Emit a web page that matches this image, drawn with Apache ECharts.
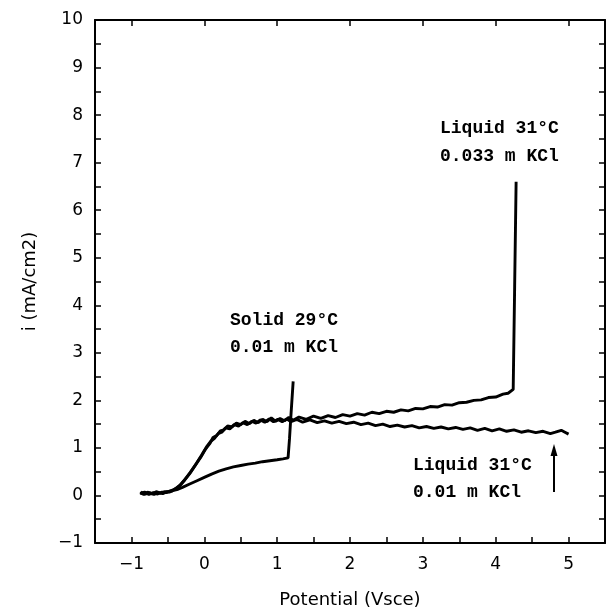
<!DOCTYPE html>
<html>
<head>
<meta charset="utf-8">
<script src="https://cdn.jsdelivr.net/npm/echarts@6/dist/echarts.min.js"></script>
<style>html,body{margin:0;padding:0;background:#fff}#c{width:608px;height:613px}</style>
</head>
<body>
<div id="c"></div>
<script>
// Tick labels
const xTickLabels = [-1, 0, 1, 2, 3, 4, 5];
const yTickLabels = [-1, 0, 1, 2, 3, 4, 5, 6, 7, 8, 9, 10];

// Solid 29°C, 0.01 m KCl  [potential V, current mA/cm2]
const solid29 = [
  [-0.88,0.06],[-0.83,0.02],[-0.78,0.07],[-0.72,0.03],[-0.66,0.08],[-0.6,0.05],[-0.54,0.08],[-0.48,0.07],
  [-0.42,0.11],[-0.36,0.13],[-0.3,0.17],[-0.2,0.24],[-0.1,0.31],[0,0.38],[0.1,0.45],[0.2,0.51],
  [0.3,0.56],[0.4,0.6],[0.5,0.63],[0.6,0.66],[0.7,0.68],[0.8,0.71],[0.9,0.73],[1.0,0.75],
  [1.08,0.77],[1.15,0.79],[1.17,1.2],[1.19,1.7],[1.22,2.4]
];

// Liquid 31°C, 0.033 m KCl
const liquid033 = [
  [-0.88,0.04],[-0.82,0.07],[-0.76,0.02],[-0.7,0.06],[-0.64,0.03],[-0.58,0.07],[-0.52,0.06],[-0.46,0.1],
  [-0.4,0.13],[-0.34,0.2],[-0.27,0.32],[-0.2,0.46],[-0.12,0.64],[-0.05,0.8],[0.02,0.98],[0.08,1.1],
  [0.12,1.22],[0.17,1.26],[0.22,1.36],[0.27,1.38],[0.32,1.46],[0.38,1.44],[0.44,1.52],[0.5,1.49],
  [0.56,1.56],[0.62,1.51],[0.68,1.58],[0.74,1.53],[0.8,1.6],[0.86,1.55],[0.92,1.63],[0.98,1.56],
  [1.04,1.62],[1.1,1.57],[1.16,1.64],[1.22,1.58],[1.3,1.65],[1.4,1.6],[1.5,1.67],[1.6,1.62],
  [1.7,1.68],[1.8,1.64],[1.9,1.7],[2.0,1.67],[2.1,1.72],[2.2,1.69],[2.3,1.75],[2.4,1.72],
  [2.5,1.77],[2.6,1.75],[2.7,1.8],[2.8,1.78],[2.9,1.83],[3.0,1.82],[3.1,1.87],[3.2,1.86],
  [3.3,1.91],[3.4,1.9],[3.5,1.95],[3.6,1.96],[3.7,2.0],[3.8,2.01],[3.9,2.06],[4.0,2.07],
  [4.1,2.13],[4.17,2.15],[4.24,2.23],[4.26,4.4],[4.28,6.6]
];

// Liquid 31°C, 0.01 m KCl
const liquid001 = [
  [-0.87,0.07],[-0.81,0.03],[-0.75,0.06],[-0.69,0.02],[-0.63,0.06],[-0.57,0.04],[-0.51,0.08],[-0.45,0.09],
  [-0.39,0.15],[-0.33,0.22],[-0.26,0.35],[-0.19,0.49],[-0.11,0.67],[-0.04,0.84],[0.03,1.02],[0.09,1.14],
  [0.14,1.2],[0.19,1.3],[0.24,1.33],[0.29,1.42],[0.35,1.4],[0.41,1.49],[0.47,1.46],[0.53,1.53],
  [0.59,1.49],[0.65,1.56],[0.71,1.52],[0.77,1.59],[0.83,1.54],[0.89,1.61],[0.95,1.55],[1.01,1.6],
  [1.07,1.55],[1.13,1.61],[1.19,1.55],[1.27,1.6],[1.35,1.54],[1.45,1.59],[1.55,1.53],[1.65,1.57],
  [1.75,1.52],[1.85,1.56],[1.95,1.51],[2.05,1.54],[2.15,1.49],[2.25,1.52],[2.35,1.47],[2.45,1.5],
  [2.55,1.45],[2.65,1.48],[2.75,1.44],[2.85,1.47],[2.95,1.42],[3.05,1.45],[3.15,1.41],[3.25,1.44],
  [3.35,1.4],[3.45,1.43],[3.55,1.39],[3.65,1.42],[3.75,1.37],[3.85,1.41],[3.95,1.36],[4.05,1.4],
  [4.15,1.35],[4.25,1.38],[4.35,1.33],[4.45,1.36],[4.55,1.32],[4.65,1.35],[4.75,1.3],[4.82,1.33],
  [4.9,1.37],[4.95,1.33],[5.0,1.29]
];

const labelFont = 'DejaVu Sans';
const annoFont = 'Liberation Mono';

const chart = echarts.init(document.getElementById('c'), null, {renderer: 'canvas'});

function fmt(v){ return v < 0 ? '\u2212' + Math.abs(v) : String(v); }
const halfTicksX = []; for (let v = -1; v <= 5.0001; v += 0.5) halfTicksX.push(Math.round(v*10)/10);
const halfTicksY = []; for (let v = -0.5; v <= 9.5001; v += 0.5) halfTicksY.push(Math.round(v*10)/10);

const axisLine = {show: true, onZero: false, lineStyle: {color: '#000', width: 2}};
const tick = {show: true, inside: true, length: 6, lineStyle: {color: '#000', width: 1.5}};

function lineSeries(name, data) {
  return {
    name, type: 'line', data, showSymbol: false, symbol: 'none',
    lineStyle: {color: '#000', width: 2.9}, xAxisIndex: 0, yAxisIndex: 0,
    z: 3, animation: false
  };
}

const option = {
  animation: false,
  backgroundColor: '#fff',
  grid: {left: 95, right: 3, top: 20, bottom: 70, containLabel: false, outerBoundsMode: 'none'},
  xAxis: [
    {
      type: 'value', min: -1.5, max: 5.5, position: 'bottom',
      axisLine, splitLine: {show: false},
      axisTick: Object.assign({}, tick, {customValues: halfTicksX}),
      axisLabel: {customValues: xTickLabels, formatter: fmt, color: '#000', fontFamily: labelFont, fontSize: 17, margin: 13},
      name: 'Potential (Vsce)', nameLocation: 'middle', nameGap: 48,
      nameTextStyle: {color: '#000', fontFamily: labelFont, fontSize: 18}
    },
    {
      type: 'value', min: -1.5, max: 5.5, position: 'top',
      axisLine, splitLine: {show: false},
      axisTick: Object.assign({}, tick, {customValues: xTickLabels}),
      axisLabel: {show: false}
    }
  ],
  yAxis: [
    {
      type: 'value', min: -1, max: 10, position: 'left',
      axisLine, splitLine: {show: false},
      axisTick: Object.assign({}, tick, {customValues: halfTicksY.concat(yTickLabels)}),
      axisLabel: {customValues: yTickLabels, formatter: fmt, color: '#000', fontFamily: labelFont, fontSize: 17, margin: 12},
      name: 'i (mA/cm2)', nameLocation: 'middle', nameGap: 56, nameRotate: 90,
      nameTextStyle: {color: '#000', fontFamily: labelFont, fontSize: 18}
    },
    {
      type: 'value', min: -1, max: 10, position: 'right',
      axisLine, splitLine: {show: false},
      axisTick: Object.assign({}, tick, {customValues: halfTicksY.concat(yTickLabels)}),
      axisLabel: {show: false}
    }
  ],
  series: [
    lineSeries('Solid 29°C 0.01 m KCl', solid29),
    lineSeries('Liquid 31°C 0.033 m KCl', liquid033),
    lineSeries('Liquid 31°C 0.01 m KCl', liquid001)
  ]
};
chart.setOption(option);

const annoFontStr = 'bold 18px "' + annoFont + '"';
function anno(text, x, y) {
  return {type: 'text', x, y, style: {text, fill: '#000', font: annoFontStr, verticalAlign: 'middle'}};
}
chart.setOption({
  graphic: [
    anno('Liquid 31°C', 440, 128),
    anno('0.033 m KCl', 440, 156),
    anno('Solid 29°C', 230, 320),
    anno('0.01 m KCl', 230, 347),
    anno('Liquid 31°C', 413, 465),
    anno('0.01 m KCl', 413, 492),
    {type: 'line', shape: {x1: 554, y1: 492, x2: 554, y2: 452}, style: {stroke: '#000', lineWidth: 2}},
    {type: 'polygon', shape: {points: [[554, 444], [550.5, 456], [557.5, 456]]}, style: {fill: '#000'}}
  ]
});
</script>
</body>
</html>
